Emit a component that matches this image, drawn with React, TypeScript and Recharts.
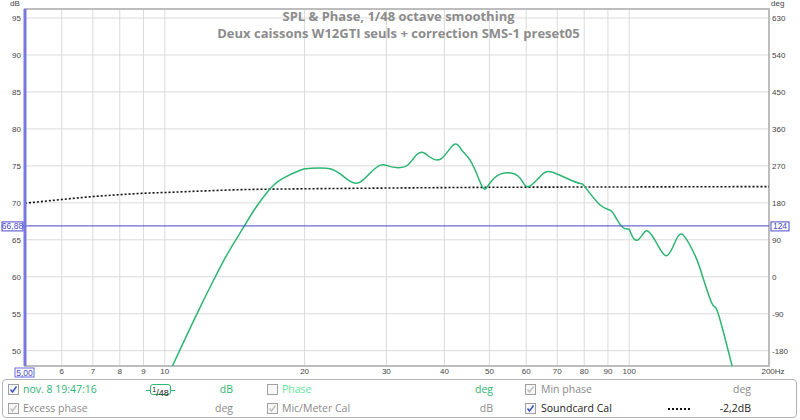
import React from "react"
import { CartesianGrid, Line, LineChart, ReferenceArea, ReferenceLine, XAxis, YAxis } from "recharts"

// SPL curve (Hz / dB)
const splFreq = [
  10.0, 10.38, 11.0, 11.92, 12.8, 13.7, 14.75, 15.6, 16.7, 17.3, 18.0, 19.56, 20.5, 22.7, 24.5, 26.0, 27.4, 29.1,
  30.6, 32.9, 34.3, 35.7, 37.2, 39.2, 41.2, 42.6, 43.9, 45.4, 47.4, 48.9, 51.1, 55.0, 58.3, 60.6, 64.4, 67.6,
  73.5, 78.6, 80.3, 86.6, 91.0, 93.8, 96.2, 98.7, 100.0, 101.5, 104.2, 107.3, 110.1, 114.7, 120.0, 124.7,
  129.1, 134.5, 140.0, 144.7, 150.7, 154.0, 159.1, 166.6, 170.0,
]
const splDb = [
  45.8, 47.9, 51.3, 55.9, 59.8, 63.3, 66.6, 69.1, 71.6, 72.6, 73.35, 74.4, 74.65, 74.6, 73.35, 72.67, 73.75, 75.1,
  74.9, 74.9, 76.0, 76.83, 76.2, 75.9, 77.4, 77.9, 76.9, 75.8, 73.3, 71.86, 73.3, 74.07, 73.3, 72.17, 73.6, 74.2,
  73.3, 72.6, 72.17, 69.7, 69.0, 67.9, 66.88, 66.45, 66.4, 65.5, 64.96, 65.87, 66.1, 64.5, 62.84, 64.3,
  65.77, 64.5, 62.25, 59.55, 56.4, 55.7, 52.8, 47.9, 45.5,
]

// Soundcard Cal curve (dotted)
const calFreq = [5, 6, 7, 8, 9, 10, 12, 15, 20, 30, 50, 100, 200]
const calDb = [69.95, 70.45, 70.85, 71.1, 71.3, 71.4, 71.6, 71.8, 71.9, 72.0, 72.1, 72.15, 72.2]

const freqTicks = [5, 6, 7, 8, 9, 10, 20, 30, 40, 50, 60, 70, 80, 90, 100, 200]
const dbTicks = [50, 55, 60, 65, 70, 75, 80, 85, 90, 95]
const degTicks = [-180, -90, 0, 90, 180, 270, 360, 450, 540, 630]

const cursorFreq = 5
const cursorDb = 66.88
const cursorDeg = 124

const dbMin = 47.93
const dbMax = 96.22
const toDeg = (db: number) => 18 * db - 1080

const splData = splFreq.map((f, i) => ({ f, db: splDb[i] }))
const calData = calFreq.map((f, i) => ({ f, db: calDb[i] }))

const tickFont = "'Liberation Sans', Arial, sans-serif"
const uiFont = "'Open Sans', 'Noto Sans', sans-serif"
const green = "#2db572"
const cursorBlue = "#4848c8"

function FreqTick(props: any) {
  const { x, y, payload } = props
  if (payload.value === cursorFreq) return null
  const label = payload.value === 200 ? "200Hz" : String(payload.value)
  const dx = payload.value === 200 ? 4 : 0
  return (
    <text x={x + dx} y={y + 8} textAnchor="middle" fontSize={8} fontFamily={tickFont} fill="#444">
      {label}
    </text>
  )
}

function HCursorLabel(props: any) {
  const { viewBox } = props
  const y = viewBox.y
  const left = viewBox.x
  const right = viewBox.x + viewBox.width
  return (
    <g>
      <rect x={2} y={y - 4} width={21} height={9} fill="#fff" stroke={cursorBlue} strokeWidth={1} />
      <text x={12.5} y={y + 3.5} textAnchor="middle" fontSize={8.5} fontFamily={tickFont} fill={cursorBlue}>
        66,88
      </text>
      <line x1={23} x2={left} y1={y} y2={y} stroke={cursorBlue} />
      <rect x={right + 2} y={y - 4} width={18} height={9} fill="#fff" stroke={cursorBlue} strokeWidth={1} />
      <text x={right + 11} y={y + 3.5} textAnchor="middle" fontSize={8.5} fontFamily={tickFont} fill={cursorBlue}>
        {cursorDeg}
      </text>
    </g>
  )
}

function VCursorLabel(props: any) {
  const { viewBox } = props
  const x = viewBox.x
  const bottom = viewBox.y + viewBox.height
  return (
    <g>
      <rect x={x - 10} y={bottom + 2} width={19} height={9} fill="#fff" stroke="#6a6ae0" strokeWidth={1} />
      <text x={x - 0.5} y={bottom + 9.5} textAnchor="middle" fontSize={8.5} fontFamily={tickFont} fill={cursorBlue}>
        5,00
      </text>
    </g>
  )
}

function CheckBox({ x, y, state }: { x: number; y: number; state: "on" | "off" | "grey" }) {
  return (
    <svg style={{ position: "absolute", left: x, top: y }} width={11} height={11}>
      <rect x={0.5} y={0.5} width={10} height={10} fill="#f7f7f7" stroke="#a0a0a0" />
      {state !== "off" && (
        <path
          d="M2.5 5.5 L4.5 8 L8.5 2.5"
          fill="none"
          stroke={state === "on" ? "#3552b8" : "#c0c0c0"}
          strokeWidth={1.4}
        />
      )}
    </svg>
  )
}

function Txt({ x, y, color, children, right }: any) {
  const style: React.CSSProperties = {
    position: "absolute",
    top: y,
    fontSize: 10.5,
    fontFamily: uiFont,
    color,
    whiteSpace: "nowrap",
    lineHeight: "12px",
  }
  if (right !== undefined) style.right = 800 - right
  else style.left = x
  return <div style={style}>{children}</div>
}

function LegendPanel() {
  const r1 = 384
  const r2 = 403
  return (
    <>
      <div
        style={{
          position: "absolute",
          left: 2,
          top: 379,
          width: 795,
          height: 39,
          border: "1px solid #b4b4b4",
          borderRadius: 4,
          boxSizing: "border-box",
          background: "#fff",
        }}
      />
      <CheckBox x={8} y={r1} state="on" />
      <Txt x={23} y={r1 - 1} color={green}>nov. 8 19:47:16</Txt>
      <div style={{ position: "absolute", left: 146, top: 389.5, width: 29, height: 1.5, background: green }} />
      <div
        style={{
          position: "absolute",
          left: 150,
          top: 384,
          width: 21,
          height: 11,
          border: `1.5px solid ${green}`,
          borderRadius: 3,
          background: "#fff",
          boxSizing: "border-box",
          fontSize: 9,
          fontFamily: tickFont,
          color: "#222",
          textAlign: "center",
          lineHeight: "9px",
        }}
      >
        <sup style={{ fontSize: 7 }}>1</sup>/48
      </div>
      <Txt right={233} y={r1 - 1} color={green}>dB</Txt>
      <CheckBox x={267} y={r1} state="off" />
      <Txt x={282} y={r1 - 1} color="#5ee69a">Phase</Txt>
      <Txt right={493} y={r1 - 1} color={green}>deg</Txt>
      <CheckBox x={525} y={r1} state="grey" />
      <Txt x={541} y={r1 - 1} color="#8a8a8a">Min phase</Txt>
      <Txt right={751} y={r1 - 1} color="#8a8a8a">deg</Txt>

      <CheckBox x={8} y={r2} state="grey" />
      <Txt x={23} y={r2 - 1} color="#8a8a8a">Excess phase</Txt>
      <Txt right={233} y={r2 - 1} color="#8a8a8a">deg</Txt>
      <CheckBox x={267} y={r2} state="grey" />
      <Txt x={282} y={r2 - 1} color="#8a8a8a">Mic/Meter Cal</Txt>
      <Txt right={493} y={r2 - 1} color="#8a8a8a">dB</Txt>
      <CheckBox x={525} y={r2} state="on" />
      <Txt x={541} y={r2 - 1} color="#222">Soundcard Cal</Txt>
      <div style={{ position: "absolute", left: 668, top: 408, width: 22, borderTop: "2px dotted #111" }} />
      <Txt right={751} y={r2 - 1} color="#222">-2,2dB</Txt>
    </>
  )
}

export default function App() {
  return (
    <div style={{ position: "absolute", left: 0, top: 0, width: 800, height: 420, background: "#fff", overflow: "hidden" }}>
      <LineChart width={800} height={420} margin={{ top: 9, right: 0, bottom: 0, left: 0 }}>
        <CartesianGrid yAxisId="db" stroke="#dadada" strokeWidth={1} />
        <XAxis
          dataKey="f"
          type="number"
          scale="log"
          domain={[5, 200]}
          ticks={freqTicks}
          allowDataOverflow
          height={54}
          tickLine={false}
          axisLine={false}
          tickSize={0}
          tickMargin={0}
          tick={<FreqTick />}
          interval={0}
        />
        <YAxis
          yAxisId="db"
          type="number"
          domain={[dbMin, dbMax]}
          ticks={dbTicks}
          allowDataOverflow
          width={25}
          tickLine={false}
          axisLine={false}
          tickSize={0}
          tickMargin={4}
          interval={0}
          tick={{ fontSize: 8, fontFamily: tickFont, fill: "#444" }}
        />
        <YAxis
          yAxisId="deg"
          orientation="right"
          type="number"
          domain={[toDeg(dbMin), toDeg(dbMax)]}
          ticks={degTicks}
          allowDataOverflow
          width={31}
          tickLine={false}
          axisLine={false}
          tickSize={0}
          tickMargin={3}
          interval={0}
          tick={{ fontSize: 8, fontFamily: tickFont, fill: "#444", textAnchor: "start" }}
        />
        <Line
          yAxisId="db"
          data={calData}
          dataKey="db"
          type="monotone"
          stroke="#111"
          strokeWidth={1.6}
          strokeDasharray="2 2"
          dot={false}
          isAnimationActive={false}
        />
        <Line
          yAxisId="db"
          data={splData}
          dataKey="db"
          type="natural"
          stroke={green}
          strokeWidth={1.5}
          dot={false}
          isAnimationActive={false}
        />
        <ReferenceArea
          yAxisId="db"
          x1={5}
          x2={200}
          y1={dbMin}
          y2={dbMax}
          fill="none"
          stroke="#bdbdbd"
          strokeWidth={2}
        />
        <ReferenceLine yAxisId="db" y={cursorDb} stroke={cursorBlue} strokeWidth={1} label={HCursorLabel} />
        <ReferenceLine yAxisId="db" x={cursorFreq} stroke="#7878e0" strokeWidth={3} label={VCursorLabel} />
      </LineChart>

      <div style={{ position: "absolute", left: 10, top: -1, fontSize: 8, fontFamily: tickFont, color: "#444" }}>dB</div>
      <div style={{ position: "absolute", left: 771, top: -1, fontSize: 8, fontFamily: tickFont, color: "#444" }}>deg</div>
      <div
        style={{
          position: "absolute",
          left: 0,
          top: 8,
          width: 797,
          textAlign: "center",
          fontSize: 13,
          fontWeight: 700,
          fontFamily: uiFont,
          color: "#8c8c8c",
          lineHeight: "17px",
        }}
      >
        SPL &amp; Phase, 1/48 octave smoothing
        <br />
        Deux caissons W12GTI seuls + correction SMS-1 preset05
      </div>
      <LegendPanel />
    </div>
  )
}
